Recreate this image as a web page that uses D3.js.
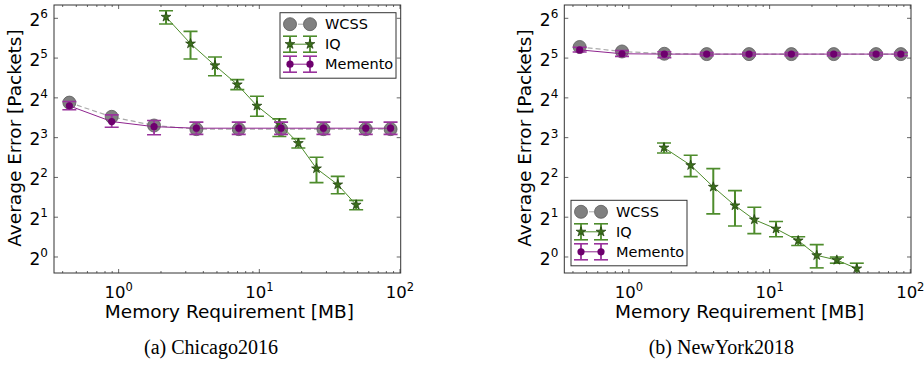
<!DOCTYPE html>
<html>
<head>
<meta charset="utf-8">
<script src="https://cdn.jsdelivr.net/npm/d3@7"></script>
<style>
  body { margin: 0; background: #fff; }
  svg { display: block; font-family: "DejaVu Sans", sans-serif; }
</style>
</head>
<body>
<svg width="924" height="366"></svg>
<script>
// memory sizes (MB) shared by WCSS and Memento
var memory = [0.45, 0.9, 1.8, 3.6, 7.2, 14.4, 28.8, 57.6, 86.4]

// (a) Chicago2016
var chiWcss = [14.6, 11.4, 9.8, 9.2, 9.2, 9.2, 9.2, 9.2, 9.2]
var chiMemento = [13.8, 10.5, 9.6, 9.35, 9.35, 9.35, 9.35, 9.35, 9.35]
var chiMementoLo = [12.9, 9.5, 8.35, 8.4, 8.4, 8.4, 8.4, 8.4, 8.4]
var chiMementoHi = [14.9, 11.8, 10.7, 10.4, 10.4, 10.4, 10.4, 10.4, 10.4]
var chiIqMemory = [2.19, 3.27, 4.88, 7.03, 9.7, 14.0, 19.1, 25.7, 36.4, 49.2]
var chiIq = [65, 40.8, 27.9, 20, 13.8, 10.1, 7.2, 4.63, 3.5, 2.46]
var chiIqLo = [57.4, 31.2, 23.3, 18.3, 11.5, 8.1, 6.63, 3.62, 2.98, 2.26]
var chiIqHi = [72.4, 50.5, 32.3, 21.8, 16.3, 11.0, 7.8, 5.63, 4.04, 2.66]

// (b) NewYork2018
var nyWcss = [38.5, 35.6, 34.2, 34.0, 34.0, 34.0, 34.0, 34.0, 34.0]
var nyMemento = [36.6, 34.2, 34.0, 34.0, 34.0, 34.0, 34.0, 34.0, 34.0]
var nyMementoLo = [35.3, 32.7, 32.0, 33.0, 33.0, 33.0, 33.0, 33.0, 33.0]
var nyMementoHi = [38.3, 36.1, 35.4, 35.0, 35.0, 35.0, 35.0, 35.0, 35.0]
var nyIqMemory = [1.79, 2.77, 4.01, 5.72, 7.85, 11.2, 16.1, 21.8, 30.3, 42.0]
var nyIq = [6.66, 4.9, 3.36, 2.43, 1.90, 1.62, 1.32, 1.02, 0.94, 0.81]
var nyIqLo = [6.07, 4.02, 2.10, 1.70, 1.49, 1.41, 1.21, 0.82, 0.89, 0.72]
var nyIqHi = [7.23, 5.83, 4.62, 3.15, 2.36, 1.84, 1.41, 1.23, 0.99, 0.89]

var xTicks = [1, 10, 100]
var yTicks = [1, 2, 4, 8, 16, 32, 64]
var seriesNames = ["WCSS", "IQ", "Memento"]

var svg = d3.select("svg")
var plotW = 346.7, plotH = 268

var grey = "#808080", green = "#3b6e1c", greenBar = "#4e8c2c", purple = "#6e006e", purpleBar = "#99339c"

function drawPanel(left, id, d, legendX, legendY, caption) {
  var g = svg.append("g").attr("transform", "translate(" + left + ",5)")
  var x = d3.scaleLog().domain([0.35, 102]).range([0, plotW])
  var y = d3.scaleLog().base(2).domain([0.75, 80]).range([plotH, 0])

  g.append("clipPath").attr("id", "clip" + id)
    .append("rect").attr("width", plotW).attr("height", plotH)
  var plot = g.append("g").attr("clip-path", "url(#clip" + id + ")")

  // minor + major ticks, inside, top and bottom
  var minor = []
  for (var e = -1; e < 2; e++) for (var k = 2; k < 10; k++) {
    var v = k * Math.pow(10, e)
    if (v > 0.35 && v < 102) minor.push(v)
  }
  g.append("g").attr("transform", "translate(0," + plotH + ")")
    .call(d3.axisBottom(x).tickValues(minor).tickSize(-2).tickFormat(""))
  g.append("g").call(d3.axisTop(x).tickValues(minor).tickSize(-2).tickFormat(""))
  g.append("g").call(d3.axisTop(x).tickValues(xTicks).tickSize(-4).tickFormat(""))
  var xb = g.append("g").attr("transform", "translate(0," + plotH + ")")
    .call(d3.axisBottom(x).tickValues(xTicks).tickSize(-4).tickPadding(9).tickFormat(""))
  xb.selectAll(".tick text").each(function(t) {
    var el = d3.select(this).attr("font-size", 16.5).attr("fill", "#000")
      .attr("font-family", "DejaVu Sans").attr("dy", "0.95em")
    el.append("tspan").text("10")
    el.append("tspan").attr("font-size", 11.5).attr("dy", "-0.6em").text(Math.round(Math.log10(t)))
  })
  var yl = g.append("g").call(d3.axisLeft(y).tickValues(yTicks).tickSize(-4).tickPadding(6).tickFormat(""))
  g.append("g").attr("transform", "translate(" + plotW + ",0)")
    .call(d3.axisRight(y).tickValues(yTicks).tickSize(-4).tickFormat(""))
  yl.selectAll(".tick text").each(function(t) {
    var el = d3.select(this).attr("font-size", 17).attr("fill", "#000")
      .attr("font-family", "DejaVu Sans").attr("dy", "0.45em")
    el.append("tspan").text("2")
    el.append("tspan").attr("font-size", 12).attr("dy", "-0.65em").text(Math.round(Math.log2(t)))
  })
  g.selectAll(".domain").remove()
  g.selectAll(".tick line").attr("stroke", "#666")

  // WCSS
  plot.append("path").datum(d.wcss)
    .attr("fill", "none").attr("stroke", "#aaa").attr("stroke-width", 1.2).attr("stroke-dasharray", "5,3")
    .attr("d", d3.line().x((v, i) => x(memory[i])).y(v => y(v)))
  plot.selectAll(".wcss").data(d.wcss).enter().append("circle")
    .attr("cx", (v, i) => x(memory[i])).attr("cy", v => y(v)).attr("r", 6.5)
    .attr("fill", grey).attr("stroke", "#5a5a5a").attr("stroke-width", 0.8)

  // IQ
  plot.append("path").datum(d.iq)
    .attr("fill", "none").attr("stroke", greenBar).attr("stroke-width", 1)
    .attr("d", d3.line().x((v, i) => x(d.iqMem[i])).y(v => y(v)))
  var iqG = plot.selectAll(".iq").data(d.iq).enter().append("g")
    .attr("transform", (v, i) => "translate(" + x(d.iqMem[i]) + ",0)")
  iqG.append("line").attr("y1", (v, i) => y(d.iqLo[i])).attr("y2", (v, i) => y(d.iqHi[i]))
    .attr("stroke", greenBar).attr("stroke-width", 2)
  iqG.append("line").attr("x1", -7).attr("x2", 7).attr("y1", (v, i) => y(d.iqLo[i])).attr("y2", (v, i) => y(d.iqLo[i]))
    .attr("stroke", greenBar).attr("stroke-width", 1.6)
  iqG.append("line").attr("x1", -7).attr("x2", 7).attr("y1", (v, i) => y(d.iqHi[i])).attr("y2", (v, i) => y(d.iqHi[i]))
    .attr("stroke", greenBar).attr("stroke-width", 1.6)
  iqG.append("path").attr("d", d3.symbol(d3.symbolStar, 30))
    .attr("transform", v => "translate(0," + y(v) + ")")
    .attr("fill", green).attr("stroke", "#1e3d0c").attr("stroke-width", 0.7)

  // Memento
  plot.append("path").datum(d.mem)
    .attr("fill", "none").attr("stroke", "#8e248e").attr("stroke-width", 1)
    .attr("d", d3.line().x((v, i) => x(memory[i])).y(v => y(v)))
  var mG = plot.selectAll(".mem").data(d.mem).enter().append("g")
    .attr("transform", (v, i) => "translate(" + x(memory[i]) + ",0)")
  mG.append("line").attr("y1", (v, i) => y(d.memLo[i])).attr("y2", (v, i) => y(d.memHi[i]))
    .attr("stroke", purpleBar).attr("stroke-width", 1.8)
  mG.append("line").attr("x1", -7).attr("x2", 7).attr("y1", (v, i) => y(d.memLo[i])).attr("y2", (v, i) => y(d.memLo[i]))
    .attr("stroke", purpleBar).attr("stroke-width", 1.6)
  mG.append("line").attr("x1", -7).attr("x2", 7).attr("y1", (v, i) => y(d.memHi[i])).attr("y2", (v, i) => y(d.memHi[i]))
    .attr("stroke", purpleBar).attr("stroke-width", 1.6)
  mG.append("circle").attr("cy", v => y(v)).attr("r", 3.6).attr("fill", purple)

  // frame
  g.append("rect").attr("width", plotW).attr("height", plotH)
    .attr("fill", "none").attr("stroke", "#333").attr("stroke-width", 1)

  // legend
  var lg = g.append("g").attr("transform", "translate(" + legendX + "," + legendY + ")")
  lg.append("rect").attr("width", 116).attr("height", 65.5)
    .attr("fill", "#fff").attr("stroke", "#333").attr("stroke-width", 1)
  var rows = [11.5, 31.5, 51.5]
  seriesNames.forEach(function(name, i) {
    var r = lg.append("g").attr("transform", "translate(0," + rows[i] + ")")
    if (i == 0) {
      r.append("line").attr("x1", 10).attr("x2", 30).attr("stroke", "#aaa").attr("stroke-dasharray", "5,3")
      ;[10, 30].forEach(cx => r.append("circle").attr("cx", cx).attr("r", 6.5).attr("fill", grey).attr("stroke", "#5a5a5a").attr("stroke-width", 0.8))
    } else {
      var bar = i == 1 ? greenBar : purpleBar
      r.append("line").attr("x1", 10).attr("x2", 30).attr("stroke", i == 1 ? greenBar : "#8e248e")
      ;[10, 30].forEach(function(cx) {
        r.append("line").attr("x1", cx).attr("x2", cx).attr("y1", -8).attr("y2", 8).attr("stroke", bar).attr("stroke-width", 1.8)
        r.append("line").attr("x1", cx - 7).attr("x2", cx + 7).attr("y1", -8).attr("y2", -8).attr("stroke", bar).attr("stroke-width", 1.6)
        r.append("line").attr("x1", cx - 7).attr("x2", cx + 7).attr("y1", 8).attr("y2", 8).attr("stroke", bar).attr("stroke-width", 1.6)
        if (i == 1) r.append("path").attr("d", d3.symbol(d3.symbolStar, 30)).attr("transform", "translate(" + cx + ",0)")
          .attr("fill", green).attr("stroke", "#1e3d0c").attr("stroke-width", 0.7)
        else r.append("circle").attr("cx", cx).attr("r", 3.6).attr("fill", purple)
      })
    }
    r.append("text").attr("x", 45).attr("dy", "0.36em").attr("font-size", 14.5).text(name)
  })

  // labels
  g.append("text").attr("x", plotW / 2 + 2).attr("y", plotH + 45)
    .attr("text-anchor", "middle").attr("font-size", 18.5).text("Memory Requirement [MB]")
  g.append("text").attr("transform", "translate(-33," + (plotH / 2 - 1) + ") rotate(-90)")
    .attr("text-anchor", "middle").attr("font-size", 18.5).text("Average Error [Packets]")
  g.append("text").attr("x", 211 - 54).attr("y", 348.5)
    .attr("text-anchor", "middle").attr("font-family", "Liberation Serif, serif").attr("font-size", 20)
    .text(caption)
}

drawPanel(54, "a", {wcss: chiWcss, mem: chiMemento, memLo: chiMementoLo, memHi: chiMementoHi,
  iqMem: chiIqMemory, iq: chiIq, iqLo: chiIqLo, iqHi: chiIqHi}, 226, 7.7, "(a)  Chicago2016")
drawPanel(564.3, "b", {wcss: nyWcss, mem: nyMemento, memLo: nyMementoLo, memHi: nyMementoHi,
  iqMem: nyIqMemory, iq: nyIq, iqLo: nyIqLo, iqHi: nyIqHi}, 6.7, 195.3, "(b)  NewYork2018")
</script>
</body>
</html>
